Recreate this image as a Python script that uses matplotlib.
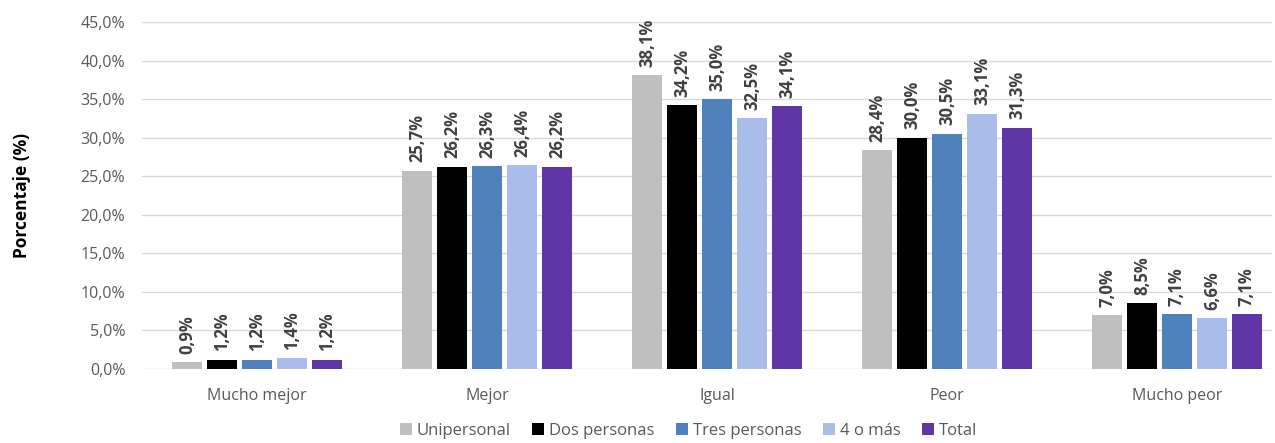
import numpy as np
import matplotlib.pyplot as plt
from matplotlib.ticker import FuncFormatter

plt.rcParams['font.family'] = ['Open Sans', 'DejaVu Sans']

# Datos
categorias = ['Mucho mejor', 'Mejor', 'Igual', 'Peor', 'Mucho peor']
series = ['Unipersonal', 'Dos personas', 'Tres personas', '4 o más', 'Total']
unipersonal = [0.9, 25.7, 38.1, 28.4, 7.0]
dos_personas = [1.2, 26.2, 34.2, 30.0, 8.5]
tres_personas = [1.2, 26.3, 35.0, 30.5, 7.1]
cuatro_o_mas = [1.4, 26.4, 32.5, 33.1, 6.6]
total = [1.2, 26.2, 34.1, 31.3, 7.1]
valores = [unipersonal, dos_personas, tres_personas, cuatro_o_mas, total]
colores = ['#BFBFBF', '#000000', '#4F81BD', '#AABDEA', '#6035A5']

fig = plt.figure(figsize=(12.75, 4.43), dpi=100)
ax = fig.add_axes([142 / 1275, 74 / 443, 1130 / 1275, 347 / 443])

x = np.arange(len(categorias))
paso = 0.152
ancho = 0.127
for i, (nombre, vals, c) in enumerate(zip(series, valores, colores)):
    pos = x + (i - 2) * paso
    ax.bar(pos, vals, width=ancho, color=c, label=nombre, zorder=3)
    for xp, v in zip(pos, vals):
        ax.text(xp, v + 1.1, f'{v:.1f}%'.replace('.', ','), rotation=90,
                ha='center', va='bottom', fontsize=12, fontweight='bold',
                color='#404040')

ax.set_ylim(0, 45)
ax.set_yticks(np.arange(0, 46, 5))
ax.yaxis.set_major_formatter(FuncFormatter(lambda v, p: f'{v:.1f}%'.replace('.', ',')))
ax.set_xlim(-0.5, 4.5 - 20 / 230)
ax.set_xticks(x)
ax.set_xticklabels(categorias)
ax.tick_params(axis='both', length=0, labelsize=11.5, colors='#595959', pad=12)
ax.tick_params(axis='x', pad=14)
ax.grid(axis='y', color='#D9D9D9', linewidth=1, zorder=0)
for s in ax.spines.values():
    s.set_visible(False)

ax.set_ylabel('Porcentaje (%)', fontsize=12.5, fontweight='bold', color='black', labelpad=36)

fig.legend(loc='lower center', bbox_to_anchor=(0.54, -0.025), ncol=5, frameon=False,
           fontsize=12, handlelength=0.7, handleheight=0.7, handletextpad=0.3,
           columnspacing=1.3, labelcolor='#595959')

plt.savefig('out.png', dpi=100)
